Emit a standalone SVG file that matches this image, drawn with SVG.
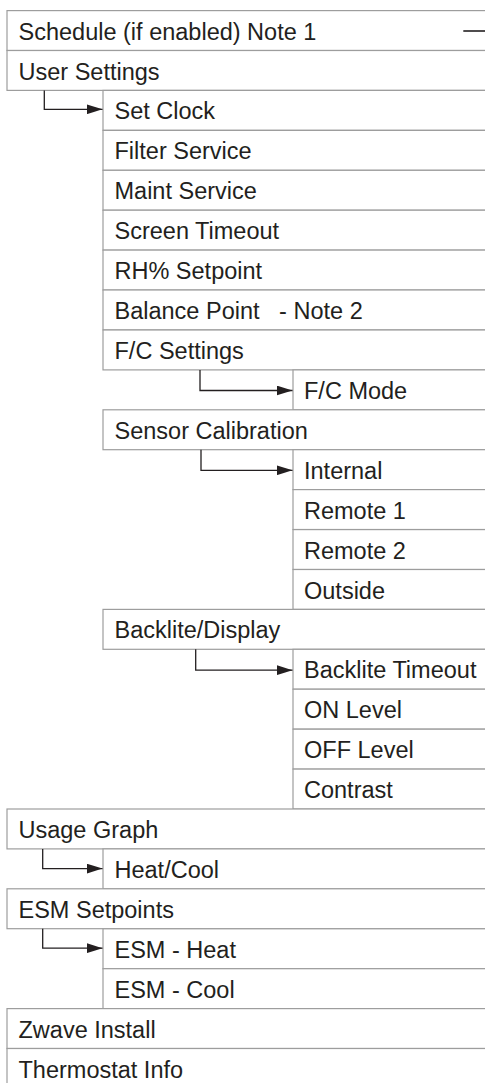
<svg xmlns="http://www.w3.org/2000/svg" width="485" height="1083" viewBox="0 0 485 1083">
<style>
.b{fill:#fff;stroke:#9d9d9d;stroke-width:1.2}
.t{font-family:"Liberation Sans",Arial,sans-serif;font-size:23.5px;fill:#231f20}
.c{fill:none;stroke:#231f20;stroke-width:1.3}
</style>
<defs>
<marker id="ah" markerUnits="userSpaceOnUse" markerWidth="16" markerHeight="10" refX="16" refY="5" orient="auto">
<path d="M0,0 L16,5 L0,10 z" fill="#231f20"/>
</marker>
</defs>
<rect width="485" height="1083" fill="#fff"/>
<g id="n0"><rect class="b" x="7" y="10.6" width="490" height="39.9"/><text class="t" x="18.5" y="39.6">Schedule (if enabled) Note 1</text></g>
<g id="n1"><rect class="b" x="7" y="50.5" width="490" height="39.9"/><text class="t" x="18.5" y="79.5">User Settings</text></g>
<g id="n2"><rect class="b" x="103" y="90.4" width="400" height="39.9"/><text class="t" x="114.5" y="119.4">Set Clock</text></g>
<g id="n3"><rect class="b" x="103" y="130.4" width="400" height="39.9"/><text class="t" x="114.5" y="159.4">Filter Service</text></g>
<g id="n4"><rect class="b" x="103" y="170.3" width="400" height="39.9"/><text class="t" x="114.5" y="199.3">Maint Service</text></g>
<g id="n5"><rect class="b" x="103" y="210.2" width="400" height="39.9"/><text class="t" x="114.5" y="239.2">Screen Timeout</text></g>
<g id="n6"><rect class="b" x="103" y="250.1" width="400" height="39.9"/><text class="t" x="114.5" y="279.1">RH% Setpoint</text></g>
<g id="n7"><rect class="b" x="103" y="290.0" width="400" height="39.9"/><text class="t" x="114.5" y="319.0" xml:space="preserve">Balance Point   - Note 2</text></g>
<g id="n8"><rect class="b" x="103" y="330.0" width="400" height="39.9"/><text class="t" x="114.5" y="359.0">F/C Settings</text></g>
<g id="n9"><rect class="b" x="293" y="369.9" width="210" height="39.9"/><text class="t" x="304" y="398.9">F/C Mode</text></g>
<g id="n10"><rect class="b" x="103" y="409.8" width="400" height="39.9"/><text class="t" x="114.5" y="438.8">Sensor Calibration</text></g>
<g id="n11"><rect class="b" x="293" y="449.7" width="210" height="39.9"/><text class="t" x="304" y="478.7">Internal</text></g>
<g id="n12"><rect class="b" x="293" y="489.6" width="210" height="39.9"/><text class="t" x="304" y="518.6">Remote 1</text></g>
<g id="n13"><rect class="b" x="293" y="529.6" width="210" height="39.9"/><text class="t" x="304" y="558.6">Remote 2</text></g>
<g id="n14"><rect class="b" x="293" y="569.5" width="210" height="39.9"/><text class="t" x="304" y="598.5">Outside</text></g>
<g id="n15"><rect class="b" x="103" y="609.4" width="400" height="39.9"/><text class="t" x="114.5" y="638.4">Backlite/Display</text></g>
<g id="n16"><rect class="b" x="293" y="649.3" width="210" height="39.9"/><text class="t" x="304" y="678.3">Backlite Timeout</text></g>
<g id="n17"><rect class="b" x="293" y="689.2" width="210" height="39.9"/><text class="t" x="304" y="718.2">ON Level</text></g>
<g id="n18"><rect class="b" x="293" y="729.2" width="210" height="39.9"/><text class="t" x="304" y="758.2">OFF Level</text></g>
<g id="n19"><rect class="b" x="293" y="769.1" width="210" height="39.9"/><text class="t" x="304" y="798.1">Contrast</text></g>
<g id="n20"><rect class="b" x="7" y="809.0" width="490" height="39.9"/><text class="t" x="18.5" y="838.0">Usage Graph</text></g>
<g id="n21"><rect class="b" x="103" y="848.9" width="400" height="39.9"/><text class="t" x="114.5" y="877.9">Heat/Cool</text></g>
<g id="n22"><rect class="b" x="7" y="888.8" width="490" height="39.9"/><text class="t" x="18.5" y="917.8">ESM Setpoints</text></g>
<g id="n23"><rect class="b" x="103" y="928.8" width="400" height="39.9"/><text class="t" x="114.5" y="957.8">ESM - Heat</text></g>
<g id="n24"><rect class="b" x="103" y="968.7" width="400" height="39.9"/><text class="t" x="114.5" y="997.7">ESM - Cool</text></g>
<g id="n25"><rect class="b" x="7" y="1008.6" width="490" height="39.9"/><text class="t" x="18.5" y="1037.6">Zwave Install</text></g>
<g id="n26"><rect class="b" x="7" y="1048.5" width="490" height="39.9"/><text class="t" x="18.5" y="1077.5">Thermostat Info</text></g>
<g id="connectors">
<path class="c" d="M44.3,90.4 V109.3 H102.5" marker-end="url(#ah)"/>
<path class="c" d="M200,369.9 V390.5 H292.5" marker-end="url(#ah)"/>
<path class="c" d="M201,449.7 V470.3 H292.5" marker-end="url(#ah)"/>
<path class="c" d="M195.7,649.3 V670.2 H292.5" marker-end="url(#ah)"/>
<path class="c" d="M42.7,848.9 V868.6 H102.5" marker-end="url(#ah)"/>
<path class="c" d="M42.7,928.8 V948.2 H102.5" marker-end="url(#ah)"/>
<line class="c" x1="463.3" y1="31" x2="486" y2="31" style="stroke-width:1.6"/>
</g>
</svg>
